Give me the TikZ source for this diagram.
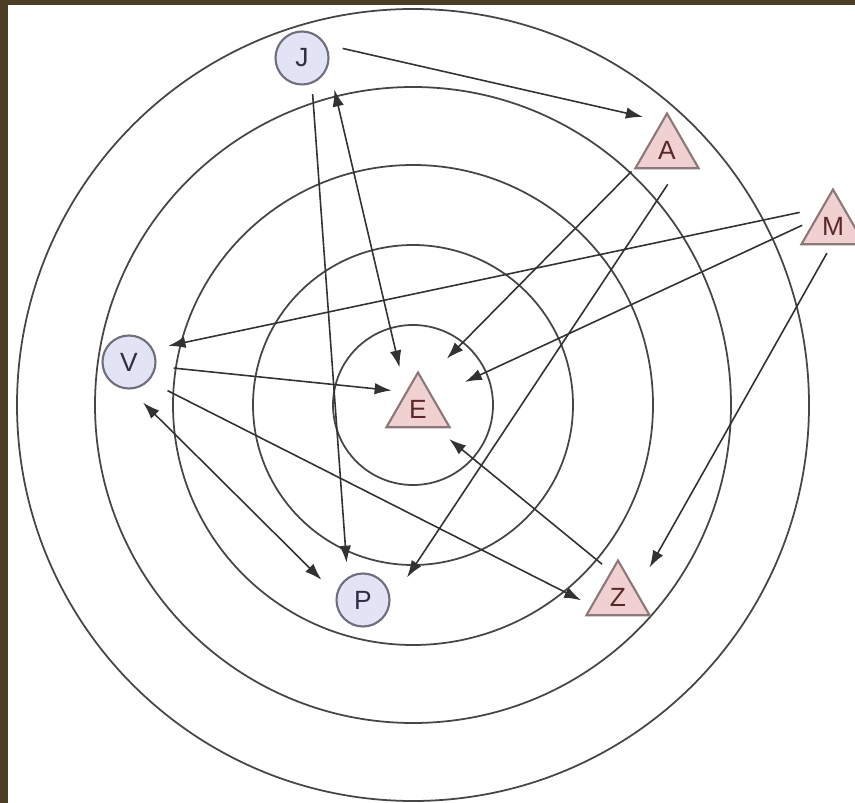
\documentclass[tikz,border=0pt]{standalone}
\usepackage{fontspec}
\setmainfont{Liberation Sans}
\usetikzlibrary{shapes.geometric,arrows.meta}
\definecolor{frame_brown}{RGB}{78,61,38}
\definecolor{agent_fill}{RGB}{226,227,245}
\definecolor{agent_line}{RGB}{110,110,125}
\definecolor{agent_text}{RGB}{45,45,70}
\definecolor{target_fill}{RGB}{240,208,208}
\definecolor{target_line}{RGB}{140,120,120}
\definecolor{target_text}{RGB}{90,40,40}
\definecolor{ring}{RGB}{70,70,70}
\definecolor{link}{RGB}{50,50,50}

\begin{document}
\begin{tikzpicture}[
    x=0.02cm, y=-0.02cm,
    >={Latex[length=3.4mm,width=2.3mm]},
    person/.style={circle, draw=agent_line, fill=agent_fill, line width=1.2pt, minimum size=1.06cm, inner sep=0pt, text=agent_text, font=\fontsize{15}{18}\selectfont},
    target/.style={regular polygon, regular polygon sides=3, draw=target_line, fill=target_fill, line width=1.2pt, minimum size=1.46cm, inner sep=0pt, text=target_text, font=\fontsize{15}{18}\selectfont},
    ringline/.style={draw=ring, line width=1pt},
    link/.style={draw=link, line width=0.9pt},
]

% Page and frame
\useasboundingbox (0,0) rectangle (855,803);
\fill[white] (0,0) rectangle (855,803);
\fill[frame_brown] (0,0) rectangle (8,803);
\fill[frame_brown] (0,0) rectangle (855,5);

% Rings
\coordinate (hub) at (413,405);
\foreach \r in {80,160,240,318,396}
    \draw[ringline] (hub) circle[radius=\r];

% Circles
\node[person] (J) at (302,58) {J};
\node[person] (V) at (129,362) {V};
\node[person] (P) at (363,600) {P};

% Triangles
\node[target] (E) at (418,409) {E};
\node[target] (A) at (667,150) {A};
\node[target] (M) at (833,226) {M};
\node[target] (Z) at (618,597) {Z};

% Links from J
\draw[link, ->, shorten <=0.34cm, shorten >=0.38cm] (J.29) -- (A.101);
\draw[link, <->, shorten <=0.50cm, shorten >=0.51cm] (J.-15) -- (E.127);
\draw[link, ->, shorten <=0.21cm, shorten >=0.29cm] (J.-69) -- (P.124);

% Links from A
\draw[link, ->, shorten <=0.06cm, shorten >=0.64cm] (A.210) -- (E.77);
\draw[link, ->, shorten <=0.36cm, shorten >=0.60cm] (A.-61) -- (P.-5);

% Links from M
\draw[link, ->, shorten <=0.44cm, shorten >=0.31cm] (M.123) -- (V.28);
\draw[link, ->, shorten <=0.27cm, shorten >=0.70cm] (M.161) -- (E.39);
\draw[link, ->, shorten <=0.18cm, shorten >=0.53cm] (M.-95) -- (Z.19);

% Links from V
\draw[link, ->, shorten <=0.35cm, shorten >=0.28cm] (V.-9) -- (E.126);
\draw[link, ->, shorten <=0.42cm, shorten >=0.22cm] (V.-44) -- (Z.197);
\draw[link, <->, shorten <=0.37cm, shorten >=0.41cm] (V.-88) -- (P.168);

% Link from Z
\draw[link, ->, shorten <=0.22cm, shorten >=0.34cm] (Z.106) -- (E.-47);

\end{tikzpicture}
\end{document}
